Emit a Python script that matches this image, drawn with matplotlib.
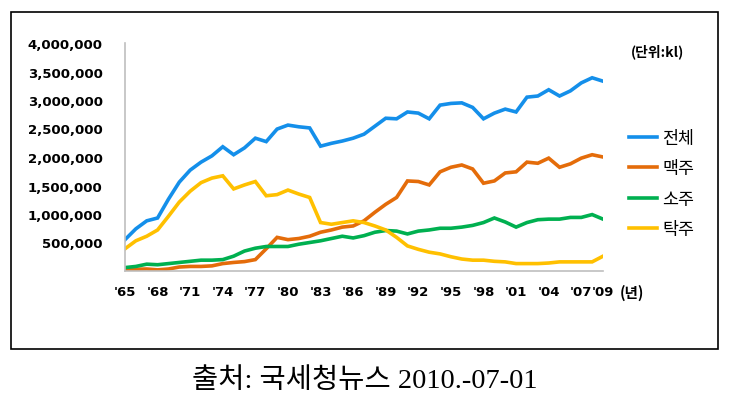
import matplotlib
matplotlib.use("Agg")
import matplotlib.pyplot as plt
from matplotlib.patches import Rectangle
from matplotlib.ticker import FuncFormatter

years = list(range(1965, 2010))

total = [550000, 740000, 880000, 930000, 1260000, 1560000, 1770000, 1910000, 2020000, 2180000,
         2040000, 2160000, 2330000, 2270000, 2490000, 2560000, 2530000, 2510000, 2190000, 2240000,
         2280000, 2330000, 2400000, 2540000, 2680000, 2670000, 2790000, 2770000, 2670000, 2910000,
         2940000, 2950000, 2870000, 2670000, 2770000, 2840000, 2790000, 3050000, 3070000, 3180000,
         3070000, 3160000, 3300000, 3390000, 3330000]
beer = [30000, 30000, 35000, 20000, 35000, 70000, 80000, 80000, 90000, 130000,
        150000, 165000, 200000, 390000, 590000, 550000, 570000, 610000, 680000, 720000,
        770000, 790000, 880000, 1030000, 1170000, 1290000, 1580000, 1570000, 1510000, 1740000,
        1820000, 1860000, 1790000, 1540000, 1580000, 1720000, 1740000, 1910000, 1890000, 1980000,
        1820000, 1880000, 1980000, 2040000, 2000000]
soju = [60000, 80000, 120000, 110000, 130000, 150000, 170000, 190000, 190000, 200000,
        260000, 350000, 400000, 430000, 430000, 430000, 470000, 500000, 530000, 570000,
        610000, 580000, 620000, 680000, 710000, 700000, 650000, 700000, 720000, 750000,
        750000, 770000, 800000, 850000, 930000, 860000, 770000, 850000, 900000, 910000,
        910000, 940000, 940000, 990000, 910000]
takju = [390000, 530000, 610000, 720000, 960000, 1210000, 1400000, 1550000, 1630000, 1670000,
         1440000, 1510000, 1570000, 1320000, 1340000, 1420000, 1350000, 1290000, 850000, 820000,
         850000, 880000, 850000, 790000, 720000, 590000, 440000, 380000, 330000, 300000,
         250000, 210000, 190000, 190000, 170000, 160000, 130000, 130000, 130000, 140000,
         160000, 160000, 160000, 160000, 260000]

series_names = ["전체", "맥주", "소주", "탁주"]
series_colors = ["#148fea", "#e46c0a", "#00b050", "#ffc000"]

tick_years = [1965, 1968, 1971, 1974, 1977, 1980, 1983, 1986, 1989, 1992,
              1995, 1998, 2001, 2004, 2007, 2009]
tick_labels = ["'65", "'68", "'71", "'74", "'77", "'80", "'83", "'86", "'89", "'92",
               "'95", "'98", "'01", "'04", "'07", "'09"]
y_ticks = [500000, 1000000, 1500000, 2000000, 2500000, 3000000, 3500000, 4000000]

W, H = 739, 402
fig = plt.figure(figsize=(W / 100, H / 100), dpi=100)

# frame around the chart
fig.patches.append(Rectangle((10.5 / W, 1 - 350 / H), 707 / W, 337 / H,
                             transform=fig.transFigure, fill=False,
                             edgecolor="black", linewidth=1.2))

ax = fig.add_axes([125 / W, 1 - 272 / H, 478 / W, 228 / H])
for vals, name, col in zip([total, beer, soju, takju], series_names, series_colors):
    ax.plot(years, vals, color=col, linewidth=2.6, label=name, solid_joinstyle="miter")

ax.set_xlim(1965, 2009)
ax.set_ylim(0, 4000000)
ax.set_xticks(tick_years, tick_labels)
ax.set_yticks(y_ticks)
ax.yaxis.set_major_formatter(FuncFormatter(lambda v, p: f"{int(v):,}"))
ax.tick_params(length=0)
ax.tick_params(axis="y", pad=16)
ax.tick_params(axis="x", pad=10)
for lab in ax.get_xticklabels() + ax.get_yticklabels():
    lab.set_fontweight("bold")
    lab.set_fontsize(9.5)
    lab.set_family("DejaVu Sans")
for s in ["top", "right"]:
    ax.spines[s].set_visible(False)
for s in ["left", "bottom"]:
    ax.spines[s].set_color("#bfbfbf")
    ax.spines[s].set_linewidth(1.2)

ax.text(1.035, -0.093, "(년)", transform=ax.transAxes, fontsize=10.5, fontweight="bold",
        family=["Noto Sans CJK KR", "DejaVu Sans"], ha="left", va="center")

fig.text(658 / W, 1 - 52 / H, "(단위:kl)", fontsize=10, fontweight="bold",
         family=["Noto Sans CJK KR", "DejaVu Sans"], ha="center", va="center")

fig.legend(loc="upper left", bbox_to_anchor=(629 / W, 1 - 130 / H), frameon=False,
           prop={"family": "Noto Sans CJK KR", "size": 12.5},
           handlelength=1.6, handletextpad=0.3, labelspacing=0.72, borderpad=0,
           borderaxespad=0)

fig.text(365 / W, 1 - 381 / H, "출처: 국세청뉴스 2010.-07-01", fontsize=20.5,
         family=["Liberation Serif", "Noto Sans CJK KR"], ha="center", va="center")

fig.savefig("out.png", dpi=100)
